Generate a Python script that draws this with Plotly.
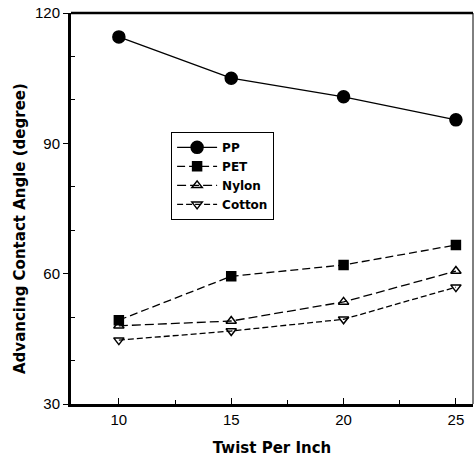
import plotly.graph_objects as go

twist = [10, 15, 20, 25]
pp = [114.5, 105.0, 100.7, 95.4]
pet = [49.3, 59.4, 62.0, 66.6]
nylon = [48.0, 49.1, 53.5, 60.6]
cotton = [44.7, 46.8, 49.5, 56.9]

series = [
    ("PP", pp, "circle", 12),
    ("PET", pet, "square", 9),
    ("Nylon", nylon, "triangle-up-open", 9),
    ("Cotton", cotton, "triangle-down-open", 9),
]
dashes = {"PP": "solid", "PET": "8px,4px", "Nylon": "9px,4px", "Cotton": "6px,3px"}

fig = go.Figure()
for name, vals, sym, sz in series:
    fig.add_trace(go.Scatter(
        x=twist, y=vals, name=name, mode="lines+markers",
        line=dict(color="black", width=1.3, dash=dashes[name]),
        marker=dict(symbol=sym, size=sz, color="black",
                    line=dict(color="black", width=1.5)),
    ))

font = "Liberation Sans, Arial, sans-serif"
bold = "DejaVu Sans, sans-serif"
fig.update_layout(
    width=475, height=461,
    margin=dict(l=71, r=2, t=13, b=57),
    paper_bgcolor="white", plot_bgcolor="white",
    font=dict(family=font, color="black", size=15),
    legend=dict(
        x=0.249, y=0.696, xanchor="left", yanchor="top",
        bordercolor="black", borderwidth=1, bgcolor="white",
        font=dict(family=bold, size=12, color="black", weight="bold"),
        itemwidth=40, tracegroupgap=0,
    ),
    xaxis=dict(
        range=[7.87, 25.76], tickvals=twist, ticks="inside", ticklen=6,
        tickwidth=1, tickcolor="black",
        showline=True, linecolor="black", linewidth=3, mirror=False,
        showgrid=False, zeroline=False,
        minor=dict(tickvals=[12.5, 17.5, 22.5], ticks="inside", ticklen=4, tickcolor="black"),
        title=dict(text="Twist Per Inch", font=dict(family=bold, size=15, weight="bold"), standoff=16),
    ),
    yaxis=dict(
        range=[30, 120], tickvals=[30, 60, 90, 120], ticks="outside", ticklen=5,
        tickwidth=1, tickcolor="black",
        showline=True, linecolor="black", linewidth=3, mirror=False,
        showgrid=False, zeroline=False,
        minor=dict(tickvals=[40, 50, 70, 80, 100, 110], ticks="inside", ticklen=4, tickcolor="black"),
    ),
    showlegend=True,
)
fig.add_annotation(text="<b>Advancing Contact Angle (degree)</b>", textangle=-90,
                   xref="paper", yref="paper", x=-0.127, y=0.45,
                   xanchor="center", yanchor="middle", showarrow=False,
                   font=dict(family=bold, size=15, color="black"))
fig.add_shape(type="line", xref="paper", yref="paper", x0=0, x1=1, y0=1, y1=1,
              line=dict(color="black", width=2.5))
fig.add_shape(type="line", xref="paper", yref="paper", x0=1, x1=1, y0=0, y1=1,
              line=dict(color="black", width=1))
fig.write_html("out.html")
